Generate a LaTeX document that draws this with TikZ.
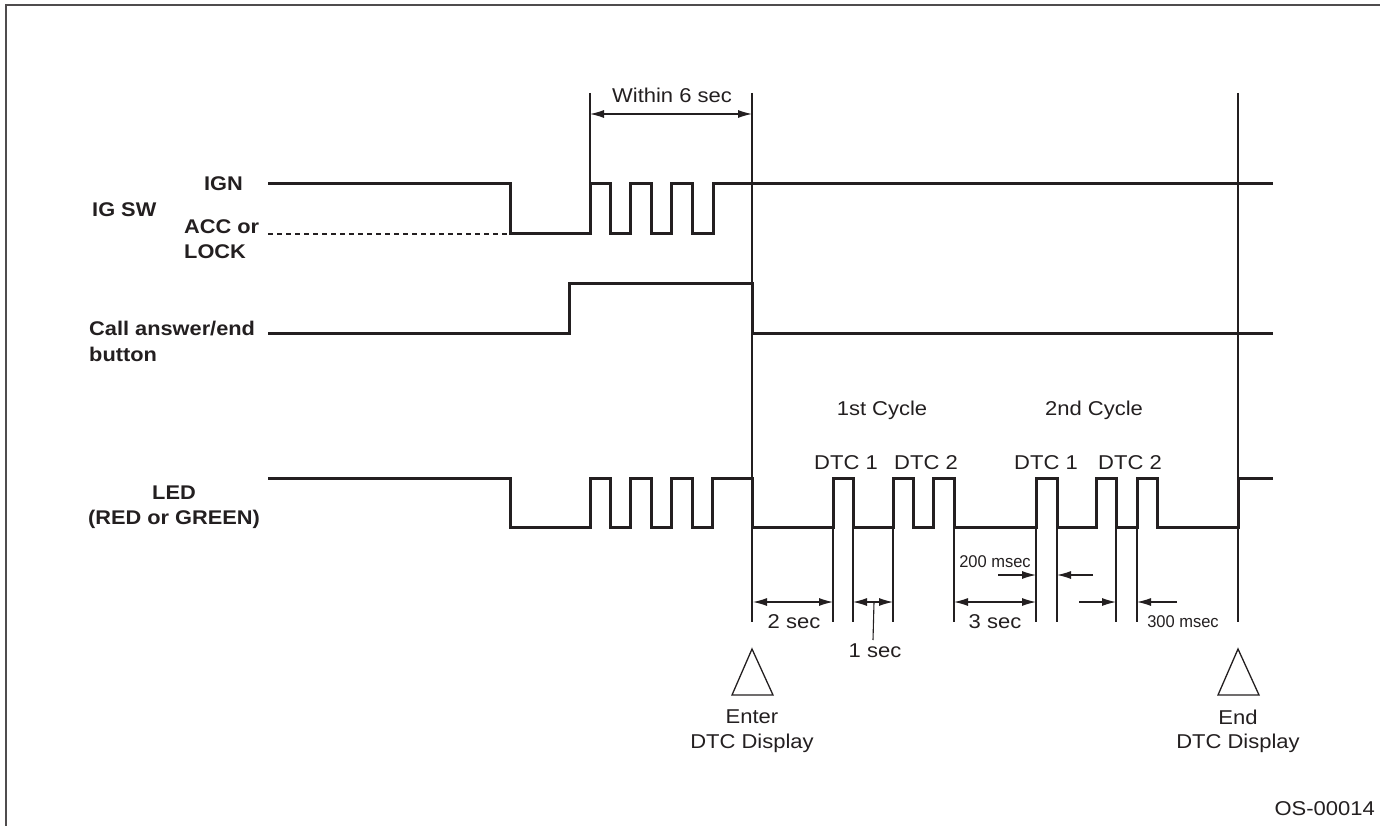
\documentclass[tikz,border=0pt]{standalone}
\usepackage{fontspec}
\setmainfont{Liberation Sans}[FakeStretch=1.1]
\newfontfamily\smallfont{Liberation Sans}[FakeStretch=0.97]
\usetikzlibrary{arrows.meta}
\definecolor{ink}{HTML}{231F20}
\begin{document}
\begin{tikzpicture}[x=1pt,y=-1pt,
  wave/.style={draw=ink,line width=3pt,line join=miter},
  thin/.style={draw=ink,line width=1.1pt},
  frame/.style={draw=ink!80,line width=1.6pt},
  dim/.style={draw=ink,line width=1.1pt,{Latex[length=14pt,width=8pt]}-{Latex[length=14pt,width=8pt]}},
  onearrow/.style={draw=ink,line width=1.1pt,-{Latex[length=14pt,width=8pt]}},
  lbl/.style={inner sep=0pt,text=ink,font=\fontsize{20}{24}\selectfont},
  blbl/.style={inner sep=0pt,text=ink,font=\fontsize{19.8}{24}\selectfont\bfseries},
  slbl/.style={inner sep=0pt,text=ink,font=\fontsize{17}{20}\selectfont\smallfont},
  tri/.style={draw=ink,line width=1.3pt,line join=miter}]
\useasboundingbox (0,0) rectangle (1380,826);
% frame
\draw[frame] (6,826) -- (6,5) -- (1380,5);

% reference vertical lines
\draw[thin] (590,93) -- (590,184);
\draw[thin] (752,93) -- (752,622);
\draw[thin] (1238,93) -- (1238,622);
\foreach \x in {833,853,893,954,1036,1057,1116,1137}
  \draw[thin] (\x,500) -- (\x,622);

% IG SW waveform
\draw[thin,dashed,dash pattern=on 5pt off 4pt] (268,234) -- (509,234);
\draw[wave] (268,184) -- (510,184) -- (510,234) -- (590,234) -- (590,184) -- (610,184) -- (610,234)
  -- (630,234) -- (630,184) -- (651,184) -- (651,234) -- (671,234) -- (671,184) -- (692,184) -- (692,234)
  -- (713,234) -- (713,184) -- (1273,184);

% Call answer/end waveform
\draw[wave] (268,333) -- (569,333) -- (569,283) -- (752,283) -- (752,333) -- (1273,333);

% LED waveform
\draw[wave] (268,478) -- (510,478) -- (510,527) -- (590,527) -- (590,478) -- (610,478) -- (610,527)
  -- (630,527) -- (630,478) -- (651,478) -- (651,527) -- (671,527) -- (671,478) -- (692,478) -- (692,527)
  -- (712,527) -- (712,478) -- (752,478) -- (752,527) -- (833,527) -- (833,478) -- (853,478) -- (853,527)
  -- (893,527) -- (893,478) -- (913,478) -- (913,527) -- (933,527) -- (933,478) -- (954,478) -- (954,527)
  -- (1036,527) -- (1036,478) -- (1057,478) -- (1057,527) -- (1096,527) -- (1096,478) -- (1116,478) -- (1116,527)
  -- (1137,527) -- (1137,478) -- (1157,478) -- (1157,527) -- (1238,527) -- (1238,478) -- (1273,478);

% dimension coordinates
\coordinate (w1) at (590,114); \coordinate (w2) at (752,114);
\coordinate (a1) at (753,602); \coordinate (a2) at (833,602);
\coordinate (b1) at (853,602); \coordinate (b2) at (893,602);
\coordinate (c1) at (954,602); \coordinate (c2) at (1036,602);
\coordinate (d1) at (998,575); \coordinate (d2) at (1036,575);
\coordinate (e1) at (1093,575); \coordinate (e2) at (1057,575);
\coordinate (f1) at (1079,602); \coordinate (f2) at (1116,602);
\coordinate (g1) at (1177,602); \coordinate (g2) at (1137,602);
\coordinate (l1) at (874,602); \coordinate (l2) at (873,640);

\draw[dim] (w1) -- (w2);
\draw[dim] (a1) -- (a2);
\draw[dim] (b1) -- (b2);
\draw[dim] (c1) -- (c2);
\draw[onearrow] (d1) -- (d2);
\draw[onearrow] (e1) -- (e2);
\draw[onearrow] (f1) -- (f2);
\draw[onearrow] (g1) -- (g2);
\draw[thin] (l1) -- (l2);

% triangles
\draw[tri] (752,649) -- (773,695) -- (732,695) -- cycle;
\draw[tri] (1238,649) -- (1259,695) -- (1218,695) -- cycle;

% labels
\node[lbl] (within) at (672,95) {Within 6 sec};
\node[blbl,anchor=east] (ign) at (243,184) {IGN};
\node[blbl,anchor=west] (igsw) at (92,210) {IG SW};
\node[blbl,anchor=west] (acc) at (184,227) {ACC or};
\node[blbl,anchor=west] (lock) at (184,252) {LOCK};
\node[blbl,anchor=west] (call) at (89,329) {Call answer/end};
\node[blbl,anchor=west] (button) at (89,354) {button};
\node[blbl] (led) at (174,493) {LED};
\node[blbl] (redgreen) at (174,519) {(RED or GREEN)};
\node[lbl] (cyc1) at (882,410) {1st Cycle};
\node[lbl] (cyc2) at (1094,410) {2nd Cycle};
\node[lbl] (dtc11) at (846,463) {DTC 1};
\node[lbl] (dtc12) at (926,463) {DTC 2};
\node[lbl] (dtc21) at (1046,463) {DTC 1};
\node[lbl] (dtc22) at (1130,463) {DTC 2};
\node[lbl] (s2) at (794,622) {2 sec};
\node[lbl] (s1) at (875,651) {1 sec};
\node[lbl] (s3) at (995,622) {3 sec};
\node[slbl] (m200) at (995,562) {200 msec};
\node[slbl] (m300) at (1183,622) {300 msec};
\node[lbl] (enter) at (752,717) {Enter};
\node[lbl] (enterd) at (752,743) {DTC Display};
\node[lbl] (endl) at (1238,717) {End};
\node[lbl] (endd) at (1238,743) {DTC Display};
\node[lbl,anchor=east] (code) at (1375,809) {OS-00014};
\end{tikzpicture}
\end{document}
